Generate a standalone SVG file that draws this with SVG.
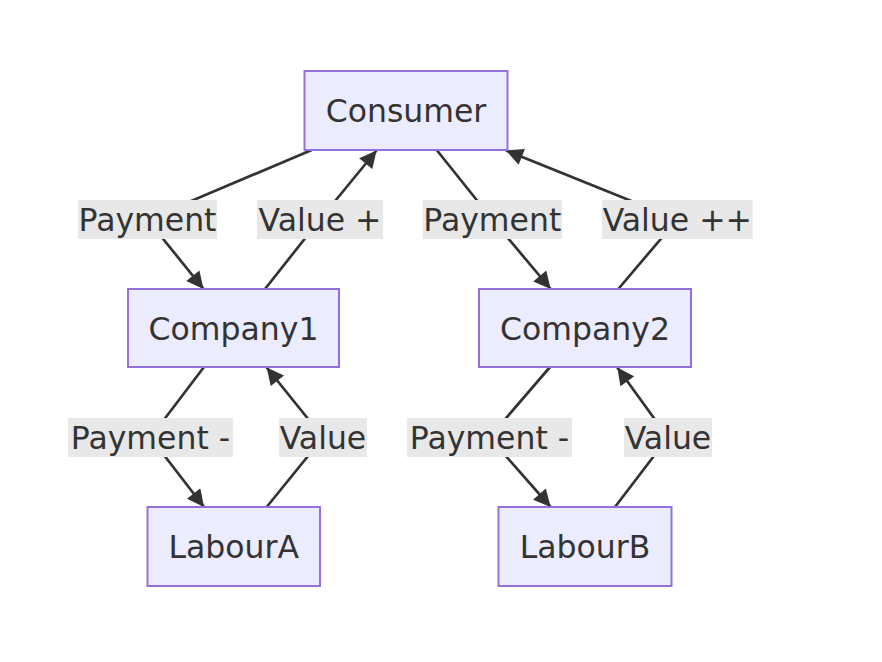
<svg xmlns="http://www.w3.org/2000/svg" width="882" height="662" viewBox="0 0 882 662">
<style>
.node rect{fill:#ECECFF;stroke:#9370DB;stroke-width:2}
.node text,.lbl text{font-family:"DejaVu Sans","Verdana",sans-serif;font-size:31.5px;fill:#333;text-anchor:middle}
.edge{fill:none;stroke:#333;stroke-width:2.7;marker-end:url(#arrow)}
.lbl rect{fill:#e8e8e8}
</style>
<defs>
<marker id="arrow" viewBox="0 0 10 10" refX="10" refY="5" markerUnits="userSpaceOnUse" markerWidth="18" markerHeight="17" orient="auto">
<path d="M0,0 L10,5 L0,10 z" fill="#333"/>
</marker>
</defs>
<rect width="882" height="662" fill="#fff"/>
<g id="connectors">
<path class="edge" d="M311.7,150 L147.5,219.5 L203.5,289"/>
<path class="edge" d="M265,289 L320,219.5 L376.5,150.5"/>
<path class="edge" d="M436.7,150 L492.3,219.5 L550.7,289"/>
<path class="edge" d="M618.3,289 L677.3,219.5 L506,150.5"/>
<path class="edge" d="M204,367 L150.5,437.5 L204,507"/>
<path class="edge" d="M266.7,507 L323,437.5 L266.7,367.5"/>
<path class="edge" d="M550,367 L489.5,437.5 L550.7,507"/>
<path class="edge" d="M615,507 L668,437.5 L617.3,367.5"/>
</g>
<g id="edge-labels">
<g class="lbl"><rect x="78" y="200" width="139" height="39"/><text x="147.5" y="231">Payment</text></g>
<g class="lbl"><rect x="257" y="200" width="126" height="39"/><text x="320" y="231">Value +</text></g>
<g class="lbl"><rect x="422.7" y="200" width="139.3" height="39"/><text x="492.3" y="231">Payment</text></g>
<g class="lbl"><rect x="602" y="200" width="150.7" height="39"/><text x="677.3" y="231">Value ++</text></g>
<g class="lbl"><rect x="68" y="418" width="165" height="39"/><text x="150.5" y="449">Payment -</text></g>
<g class="lbl"><rect x="279" y="418" width="88" height="39"/><text x="323" y="449">Value</text></g>
<g class="lbl"><rect x="407" y="418" width="165" height="39"/><text x="489.5" y="449">Payment -</text></g>
<g class="lbl"><rect x="624" y="418" width="88" height="39"/><text x="668" y="449">Value</text></g>
</g>
<g id="Consumer" class="node"><rect x="304.5" y="71" width="203" height="79"/><text x="406" y="122">Consumer</text></g>
<g id="Company1" class="node"><rect x="128" y="289" width="211" height="78"/><text x="233.5" y="339.5">Company1</text></g>
<g id="Company2" class="node"><rect x="479" y="289" width="212" height="78"/><text x="585" y="339.5">Company2</text></g>
<g id="LabourA" class="node"><rect x="147.5" y="507" width="172.5" height="79"/><text x="233.75" y="558">LabourA</text></g>
<g id="LabourB" class="node"><rect x="498.5" y="507" width="173" height="79"/><text x="585" y="558">LabourB</text></g>
</svg>
